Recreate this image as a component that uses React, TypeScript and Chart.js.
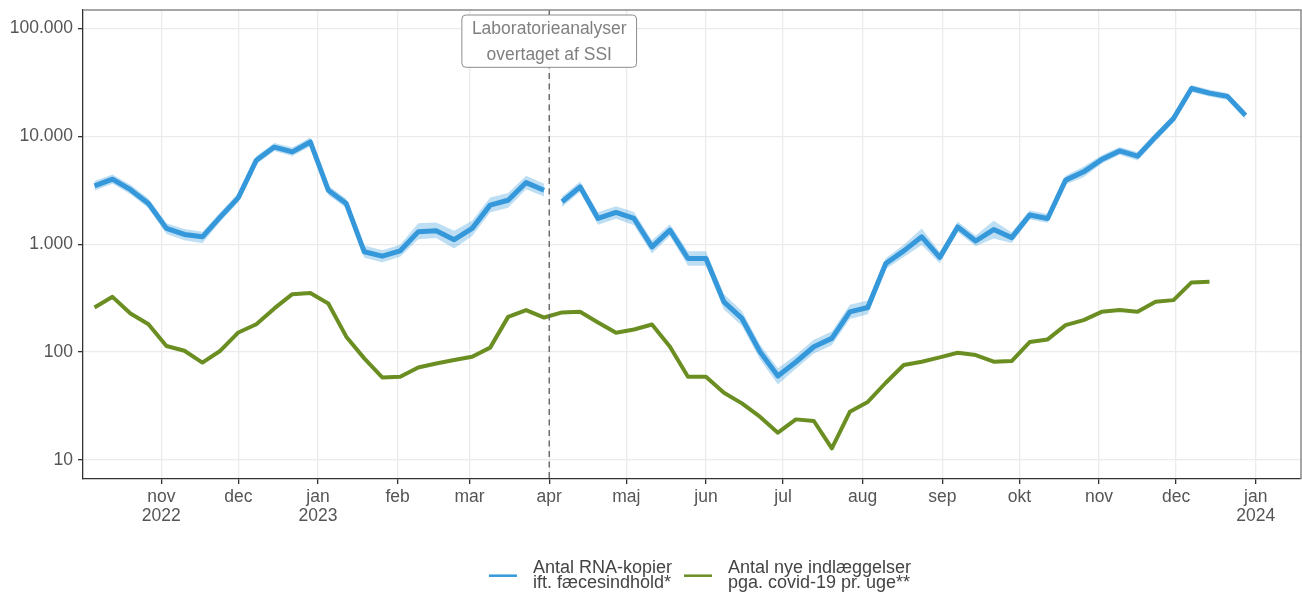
import React, { useEffect, useRef } from 'react';
import { Chart, registerables } from 'chart.js';

Chart.register(...registerables);

// ---------- data ----------
const weekDates = [
  '2022-10-06', '2022-10-13', '2022-10-20', '2022-10-27', '2022-11-03', '2022-11-10', '2022-11-17', '2022-11-24',
  '2022-12-01', '2022-12-08', '2022-12-15', '2022-12-22', '2022-12-29', '2023-01-05', '2023-01-12', '2023-01-19',
  '2023-01-26', '2023-02-02', '2023-02-09', '2023-02-16', '2023-02-23', '2023-03-02', '2023-03-09', '2023-03-16',
  '2023-03-23', '2023-03-30', '2023-04-06', '2023-04-13', '2023-04-20', '2023-04-27', '2023-05-04', '2023-05-11',
  '2023-05-18', '2023-05-25', '2023-06-01', '2023-06-08', '2023-06-15', '2023-06-22', '2023-06-29', '2023-07-06',
  '2023-07-13', '2023-07-20', '2023-07-27', '2023-08-03', '2023-08-10', '2023-08-17', '2023-08-24', '2023-08-31',
  '2023-09-07', '2023-09-14', '2023-09-21', '2023-09-28', '2023-10-05', '2023-10-12', '2023-10-19', '2023-10-26',
  '2023-11-02', '2023-11-09', '2023-11-16', '2023-11-23', '2023-11-30', '2023-12-07', '2023-12-14', '2023-12-21',
  '2023-12-28',
];

const rnaCopies = [
  3470, 4000, 3200, 2380, 1400, 1230, 1170, 1790, 2700, 6000, 7940, 7160, 8850, 3160, 2380, 850,
  774, 868, 1300, 1330, 1100, 1400, 2300, 2550, 3720, 3160,
  2470, 3400, 1730, 1970, 1730, 945, 1350, 737, 737, 292, 205, 101, 60, 81, 112, 134, 236, 259,
  662, 867, 1170, 753, 1445, 1070, 1365, 1150, 1860, 1730, 3920, 4680, 6080, 7310, 6530, 9860,
  14600, 27700, 25100, 23400, 15600,
];

const rnaUpper = [
  3850, 4420, 3550, 2650, 1560, 1380, 1300, 1980, 2980, 6550, 8650, 7850, 9750, 3500, 2640, 970,
  880, 990, 1560, 1590, 1330, 1650, 2700, 2980, 4300, 3620,
  2760, 3800, 1980, 2250, 1990, 1090, 1530, 860, 860, 345, 240, 118, 71, 94, 130, 155, 275, 300,
  740, 990, 1400, 850, 1620, 1200, 1650, 1290, 2050, 1900, 4300, 5250, 6650, 7950, 7150, 10800,
  15900, 29800, 27000, 25200, 17000,
];

const rnaLower = [
  3130, 3620, 2900, 2150, 1240, 1090, 1020, 1620, 2450, 5500, 7300, 6550, 8050, 2850, 2150, 750,
  680, 765, 1110, 1140, 910, 1190, 1960, 2180, 3220, 2760,
  2210, 3040, 1510, 1720, 1500, 820, 1190, 630, 630, 248, 175, 86, 50, 70, 97, 116, 203, 224,
  590, 760, 980, 665, 1290, 955, 1130, 1025, 1690, 1575, 3580, 4170, 5560, 6720, 5960, 9000,
  13400, 25700, 23300, 21700, 14300,
];

const admissions = [
  259, 325, 228, 181, 114, 103, 80, 103, 152, 181, 254, 344, 352, 282, 139, 87.5,
  58.3, 59, 72, 78.5, 84.4, 90.4, 110, 212, 245, 209,
  233, 236, 188, 151, 162, 180, 112, 59, 59, 42, 33.5, 25.2, 17.9, 23.8, 23, 12.8, 28, 34.5,
  52, 76, 81.4, 89.3, 98.6, 93.8, 81.4, 82.6, 124, 131, 178, 198, 236, 245, 236, 292,
  303, 442, 448,
];

// first week measured after the laboratory change (the RNA line is broken here)
const labBreakIndex = 26;

const monthTicks = [
  '2022-11-01', '2022-12-01', '2023-01-01', '2023-02-01', '2023-03-01', '2023-04-01', '2023-05-01', '2023-06-01',
  '2023-07-01', '2023-08-01', '2023-09-01', '2023-10-01', '2023-11-01', '2023-12-01', '2024-01-01',
];
const monthNames = ['jan', 'feb', 'mar', 'apr', 'maj', 'jun', 'jul', 'aug', 'sep', 'okt', 'nov', 'dec'];
const yTickValues = [10, 100, 1000, 10000, 100000];

const xMinDate = '2022-10-01T12:30:00Z';
const xMaxDate = '2024-01-18T15:00:00Z';
const yMin = 6.67;
const yMax = 147800;

const annotationDate = '2023-04-01';
const annotationLines = ['Laboratorieanalyser', 'overtaget af SSI'];

const rnaLabel = ['Antal RNA-kopier', 'ift. fæcesindhold*'];
const admissionsLabel = ['Antal nye indlæggelser', 'pga. covid-19 pr. uge**'];

// ---------- styles ----------
const FONT = '"Liberation Sans", Arial, sans-serif';
const FS = 17.5;
const LEGEND_FS = 18;
const BLUE = '#3498db';
const BAND = 'rgba(52,152,219,0.32)';
const GREEN = '#6b8e23';
const GRID = '#ebebeb';
const AXIS = '#333333';
const TICK_TEXT = '#555555';

const fmtDa = (v: number) => String(Math.round(v)).replace(/\B(?=(\d{3})+(?!\d))/g, '.');
const ts = (d: string) => Date.parse(d.length === 10 ? d + 'T00:00:00Z' : d);

const pts = (vals: number[], from: number, to: number) =>
  vals.slice(from, to).map((y, i) => ({ x: ts(weekDates[from + i]), y }));

const decorPlugin = {
  id: 'decor',
  afterDatasetsDraw(chart: any) {
    const { ctx, chartArea, scales } = chart;
    const x = scales.x.getPixelForValue(ts(annotationDate));
    ctx.save();
    // dashed vertical line
    ctx.strokeStyle = '#666666';
    ctx.lineWidth = 1.4;
    ctx.setLineDash([6, 4.5]);
    ctx.beginPath();
    ctx.moveTo(x, chartArea.top);
    ctx.lineTo(x, chartArea.bottom);
    ctx.stroke();
    ctx.setLineDash([]);
    // label box
    ctx.font = `${FS}px ${FONT}`;
    const w = Math.max(...annotationLines.map((l) => ctx.measureText(l).width)) + 20;
    const bx = x - w / 2;
    const by = 15;
    const bh = 52.3;
    const r = 4;
    ctx.beginPath();
    ctx.moveTo(bx + r, by);
    ctx.lineTo(bx + w - r, by);
    ctx.arcTo(bx + w, by, bx + w, by + r, r);
    ctx.lineTo(bx + w, by + bh - r);
    ctx.arcTo(bx + w, by + bh, bx + w - r, by + bh, r);
    ctx.lineTo(bx + r, by + bh);
    ctx.arcTo(bx, by + bh, bx, by + bh - r, r);
    ctx.lineTo(bx, by + r);
    ctx.arcTo(bx, by, bx + r, by, r);
    ctx.closePath();
    ctx.fillStyle = '#ffffff';
    ctx.fill();
    ctx.strokeStyle = '#8c8c8c';
    ctx.lineWidth = 1;
    ctx.stroke();
    ctx.fillStyle = '#7f7f7f';
    ctx.textAlign = 'center';
    ctx.textBaseline = 'middle';
    ctx.fillText(annotationLines[0], x, 29.5);
    ctx.fillText(annotationLines[1], x, 55);
    ctx.restore();
  },
  afterDraw(chart: any) {
    const { ctx, chartArea } = chart;
    ctx.save();
    // panel border (top and right)
    ctx.strokeStyle = '#8a8a8a';
    ctx.lineWidth = 1.5;
    ctx.beginPath();
    ctx.moveTo(chartArea.left, chartArea.top);
    ctx.lineTo(chartArea.right, chartArea.top);
    ctx.lineTo(chartArea.right, chartArea.bottom);
    ctx.stroke();

    // legend
    const items = [
      { color: BLUE, lines: rnaLabel },
      { color: GREEN, lines: admissionsLabel },
    ];
    ctx.font = `${LEGEND_FS}px ${FONT}`;
    const sample = 28;
    const gapText = 16;
    const gapItem = 12;
    const widths = items.map((it) => sample + gapText + Math.max(...it.lines.map((l) => ctx.measureText(l).width)));
    const total = widths.reduce((a, b) => a + b, 0) + gapItem * (items.length - 1);
    let cx = (chartArea.left + chartArea.right) / 2 + 8 - total / 2;
    const base1 = 572.7;
    const base2 = 588;
    const sampleY = 575.7;
    items.forEach((it, i) => {
      ctx.strokeStyle = it.color;
      ctx.lineWidth = 2.5;
      ctx.beginPath();
      ctx.moveTo(cx, sampleY);
      ctx.lineTo(cx + sample, sampleY);
      ctx.stroke();
      ctx.fillStyle = '#444444';
      ctx.textAlign = 'left';
      ctx.textBaseline = 'alphabetic';
      ctx.fillText(it.lines[0], cx + sample + gapText, base1);
      ctx.fillText(it.lines[1], cx + sample + gapText, base2);
      cx += widths[i] + gapItem;
    });
    ctx.restore();
  },
};

export default function App() {
  const ref = useRef<HTMLCanvasElement | null>(null);

  useEffect(() => {
    if (!ref.current) return;
    Chart.defaults.font.family = FONT;

    const bandStyle = { borderWidth: 0, pointRadius: 0, backgroundColor: BAND, borderColor: 'transparent', order: 2 };
    const lineStyle = { pointRadius: 0, tension: 0, borderJoinStyle: 'round', borderCapStyle: 'butt', fill: false, order: 1 };

    const chart = new Chart(ref.current, {
      type: 'line',
      data: {
        datasets: [
          { ...bandStyle, label: 'rnaUpperA', data: pts(rnaUpper, 0, labBreakIndex), fill: '+1' },
          { ...bandStyle, label: 'rnaLowerA', data: pts(rnaLower, 0, labBreakIndex), fill: false },
          { ...bandStyle, label: 'rnaUpperB', data: pts(rnaUpper, labBreakIndex, rnaUpper.length), fill: '+1' },
          { ...bandStyle, label: 'rnaLowerB', data: pts(rnaLower, labBreakIndex, rnaLower.length), fill: false },
          { ...lineStyle, label: rnaLabel.join(' '), data: pts(rnaCopies, 0, labBreakIndex), borderColor: BLUE, borderWidth: 5 },
          { ...lineStyle, label: rnaLabel.join(' ') + ' (SSI)', data: pts(rnaCopies, labBreakIndex, rnaCopies.length), borderColor: BLUE, borderWidth: 5 },
          { ...lineStyle, label: admissionsLabel.join(' '), data: pts(admissions, 0, admissions.length), borderColor: GREEN, borderWidth: 4 },
        ] as any,
      },
      options: {
        animation: false,
        responsive: false,
        maintainAspectRatio: false,
        events: [],
        layout: { padding: { top: 10, right: 1, left: 0, bottom: 0 } },
        plugins: { legend: { display: false }, tooltip: { enabled: false } },
        scales: {
          x: {
            type: 'linear',
            min: ts(xMinDate),
            max: ts(xMaxDate),
            afterBuildTicks: (s: any) => {
              s.ticks = monthTicks.map((d) => ({ value: ts(d) }));
            },
            afterFit: (s: any) => {
              s.height = 119;
              s.paddingLeft = 0;
              s.paddingRight = 0;
            },
            ticks: {
              autoSkip: false,
              maxRotation: 0,
              minRotation: 0,
              padding: 4,
              color: TICK_TEXT,
              font: { size: FS, family: FONT, lineHeight: 1.08 },
              callback: (v: any, i: number) => {
                const d = new Date(v);
                const m = monthNames[d.getUTCMonth()];
                return d.getUTCMonth() === 0 || i === 0 ? [m, String(d.getUTCFullYear())] : m;
              },
            },
            grid: { color: GRID, lineWidth: 1.3, tickLength: 5, tickColor: AXIS, tickWidth: 1.3 },
            border: { color: AXIS, width: 1.3 },
          },
          y: {
            type: 'logarithmic',
            min: yMin,
            max: yMax,
            afterBuildTicks: (s: any) => {
              s.ticks = yTickValues.map((v) => ({ value: v }));
            },
            afterFit: (s: any) => {
              s.width = 83;
              s.paddingTop = 0;
              s.paddingBottom = 0;
            },
            ticks: {
              autoSkip: false,
              padding: 5,
              color: TICK_TEXT,
              font: { size: FS, family: FONT },
              callback: (v: any) => fmtDa(Number(v)),
            },
            grid: { color: GRID, lineWidth: 1.3, tickLength: 5, tickColor: AXIS, tickWidth: 1.3 },
            border: { color: AXIS, width: 1.3 },
          },
        },
      } as any,
      plugins: [decorPlugin],
    });
    return () => chart.destroy();
  }, []);

  return (
    <div style={{ position: 'fixed', left: 0, top: 0, width: 1302, height: 598, background: '#ffffff' }}>
      <canvas ref={ref} width={1302} height={598} style={{ display: 'block' }} />
    </div>
  );
}
